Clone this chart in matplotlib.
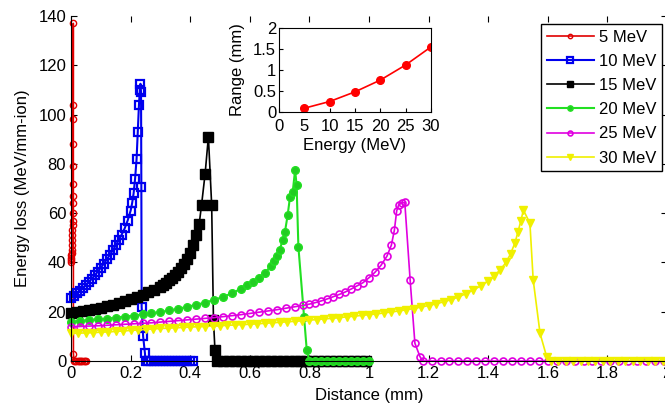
import matplotlib.pyplot as plt

# Energy loss along depth for each beam energy
x_5 = [0.000, 0.0005, 0.001, 0.0015, 0.002, 0.0025, 0.003, 0.0035, 0.004, 0.0045,
       0.005, 0.0055, 0.006, 0.0062, 0.0064, 0.0066, 0.0068, 0.007, 0.0072, 0.0074,
       0.0076, 0.008,
       0.010, 0.014, 0.018, 0.022, 0.026, 0.030, 0.034, 0.038, 0.042, 0.046, 0.050]
y_5 = [40, 41, 42, 43, 44, 45, 47, 49, 51, 53,
       55, 57, 60, 64, 67, 72, 79, 88, 98, 104,
       137, 3,
       0, 0, 0, 0, 0, 0, 0, 0, 0, 0, 0]

x_10 = [0.00, 0.01, 0.02, 0.03, 0.04, 0.05, 0.06, 0.07, 0.08, 0.09,
        0.10, 0.11, 0.12, 0.13, 0.14, 0.15, 0.16, 0.17, 0.18, 0.19,
        0.20, 0.205, 0.21, 0.215, 0.22, 0.224, 0.228, 0.231, 0.233, 0.235,
        0.236, 0.237, 0.242, 0.248,
        0.25, 0.26, 0.27, 0.28, 0.29, 0.30, 0.31, 0.32, 0.33, 0.34,
        0.35, 0.36, 0.37, 0.38, 0.39, 0.40, 0.41]
y_10 = [25.5, 26.5, 27.5, 28.6, 29.7, 30.9, 32.1, 33.4, 34.8, 36.3,
        37.9, 39.5, 41.2, 43.0, 44.9, 46.9, 49.0, 51.3, 53.8, 57.0,
        61.0, 64.0, 68.0, 74.0, 82.0, 93.0, 104.0, 110.0, 112.5, 109.0,
        70.7, 22.0, 10.0, 3.2,
        0, 0, 0, 0, 0, 0, 0, 0, 0, 0,
        0, 0, 0, 0, 0, 0, 0]

x_15 = [0.00, 0.02, 0.04, 0.06, 0.08, 0.10, 0.12, 0.14, 0.16, 0.18,
        0.20, 0.22, 0.24, 0.26, 0.28, 0.30, 0.31, 0.32, 0.33, 0.34,
        0.35, 0.36, 0.37, 0.38, 0.39, 0.40, 0.41, 0.42, 0.43, 0.438,
        0.45, 0.461, 0.472, 0.478, 0.483,
        0.49, 0.51, 0.53, 0.55, 0.57, 0.59, 0.61, 0.63, 0.65, 0.67,
        0.69, 0.71, 0.73, 0.75, 0.77, 0.79, 0.81, 0.83, 0.85, 0.87,
        0.89, 0.91, 0.93, 0.95, 0.97, 0.99]
y_15 = [19.4, 19.8, 20.2, 20.7, 21.2, 21.7, 22.2, 22.8, 23.5, 24.2,
        25.0, 25.8, 26.8, 27.9, 29.0, 30.2, 31.0, 31.8, 32.8, 33.8,
        35.0, 36.3, 37.8, 39.5, 41.5, 44.0, 47.0, 51.0, 55.5, 63.3,
        76.0, 91.0, 63.3, 16.6, 4.5,
        0, 0, 0, 0, 0, 0, 0, 0, 0, 0,
        0, 0, 0, 0, 0, 0, 0, 0, 0, 0,
        0, 0, 0, 0, 0, 0]

x_20 = [0.00, 0.03, 0.06, 0.09, 0.12, 0.15, 0.18, 0.21, 0.24, 0.27,
        0.30, 0.33, 0.36, 0.39, 0.42, 0.45, 0.48, 0.51, 0.54, 0.57,
        0.59, 0.61, 0.63, 0.65, 0.67, 0.68, 0.69, 0.70, 0.71, 0.718,
        0.727, 0.735, 0.744, 0.752, 0.757, 0.763, 0.782, 0.791,
        0.80, 0.82, 0.84, 0.86, 0.88, 0.90, 0.92, 0.94, 0.96, 0.98, 1.00]
y_20 = [16.0, 16.3, 16.6, 16.9, 17.2, 17.6, 18.0, 18.4, 18.9, 19.4,
        19.9, 20.5, 21.2, 22.0, 22.8, 23.7, 24.8, 26.0, 27.5, 29.3,
        30.7, 32.2, 33.8, 35.6, 38.5, 40.5, 42.5, 45.0, 49.0, 52.5,
        59.2, 66.7, 68.7, 77.5, 71.4, 46.4, 18.0, 4.5,
        0, 0, 0, 0, 0, 0, 0, 0, 0, 0, 0]

x_25 = [0.00, 0.03, 0.06, 0.09, 0.12, 0.15, 0.18, 0.21, 0.24, 0.27,
        0.30, 0.33, 0.36, 0.39, 0.42, 0.45, 0.48, 0.51, 0.54, 0.57,
        0.60, 0.63, 0.66, 0.69, 0.72, 0.75, 0.78, 0.80, 0.82, 0.84,
        0.86, 0.88, 0.90, 0.92, 0.94, 0.96, 0.98, 1.00, 1.02, 1.04,
        1.06, 1.075, 1.085, 1.093, 1.10, 1.11, 1.12, 1.138, 1.154, 1.171,
        1.18, 1.21, 1.24, 1.27, 1.30, 1.33, 1.36, 1.39, 1.42, 1.45,
        1.48, 1.51, 1.54, 1.57, 1.60, 1.63, 1.66, 1.69, 1.72, 1.75,
        1.78, 1.81, 1.84, 1.87, 1.90, 1.93, 1.96, 1.99]
y_25 = [13.9, 14.0, 14.2, 14.3, 14.5, 14.7, 14.9, 15.1, 15.3, 15.5,
        15.8, 16.1, 16.4, 16.7, 17.0, 17.3, 17.6, 18.0, 18.4, 18.8,
        19.3, 19.8, 20.3, 20.8, 21.4, 22.0, 22.6, 23.1, 23.7, 24.4,
        25.2, 26.1, 27.0, 28.0, 29.2, 30.5, 31.8, 33.8, 36.0, 38.8,
        42.5, 47.0, 53.0, 61.0, 63.5, 64.0, 64.5, 32.9, 7.2, 1.8,
        0, 0, 0, 0, 0, 0, 0, 0, 0, 0,
        0, 0, 0, 0, 0, 0, 0, 0, 0, 0,
        0, 0, 0, 0, 0, 0, 0, 0]

x_30 = [0.000, 0.025, 0.050, 0.075, 0.100, 0.125, 0.150, 0.175, 0.200, 0.225,
        0.250, 0.275, 0.300, 0.325, 0.350, 0.375, 0.400, 0.425, 0.450, 0.475,
        0.500, 0.525, 0.550, 0.575, 0.600, 0.625, 0.650, 0.675, 0.700, 0.725,
        0.750, 0.775, 0.800, 0.825, 0.850, 0.875, 0.900, 0.925, 0.950, 0.975,
        1.000, 1.025, 1.050, 1.075, 1.100, 1.125, 1.150, 1.175, 1.200, 1.225,
        1.250, 1.275, 1.300, 1.325, 1.350, 1.375, 1.400, 1.420, 1.440, 1.460,
        1.475, 1.490, 1.500, 1.510, 1.518, 1.540, 1.551, 1.574, 1.596,
        1.610, 1.635, 1.660, 1.685, 1.710, 1.735, 1.760, 1.785, 1.810, 1.835,
        1.860, 1.885, 1.910, 1.935, 1.960, 1.985]
y_30 = [11.2, 11.3, 11.4, 11.5, 11.7, 11.8, 12.0, 12.2, 12.4, 12.6,
        12.8, 13.0, 13.2, 13.3, 13.5, 13.6, 13.8, 13.9, 14.0, 14.2,
        14.3, 14.5, 14.6, 14.8, 14.9, 15.1, 15.3, 15.5, 15.7, 15.9,
        16.1, 16.3, 16.6, 16.8, 17.1, 17.3, 17.6, 17.9, 18.2, 18.5,
        18.8, 19.1, 19.5, 19.9, 20.3, 20.8, 21.3, 21.9, 22.5, 23.2,
        24.0, 24.9, 26.0, 27.3, 28.8, 30.5, 32.5, 34.5, 37.0, 40.0,
        43.5, 48.0, 52.5, 57.0, 61.3, 55.9, 32.9, 11.2, 1.8,
        0, 0, 0, 0, 0, 0, 0, 0, 0, 0,
        0, 0, 0, 0, 0, 0]

# Inset: range vs energy
energy = [5, 10, 15, 20, 25, 30]
range_mm = [0.09, 0.25, 0.48, 0.76, 1.12, 1.55]

plt.rcParams['font.family'] = ['Liberation Sans', 'DejaVu Sans']

fig = plt.figure(figsize=(6.65, 4.07), dpi=100)
ax = fig.add_axes([0.1068, 0.113, 0.8962, 0.8477])

ax.plot(x_5, y_5, color='#e00000', marker='o', ms=4.5, mfc='none', mew=1.0,
        lw=1.2, clip_on=False, label='5 MeV')
ax.plot(x_10, y_10, color='#0000ee', marker='s', ms=6, mfc='none', mew=1.6,
        lw=1.5, clip_on=False, label='10 MeV')
ax.plot(x_15, y_15, color='black', marker='s', ms=6.5, mfc='black',
        lw=1.2, clip_on=False, label='15 MeV')
ax.plot(x_20, y_20, color='#22e022', marker='o', ms=5.5, mfc='#22cc22', mec='#22e022',
        lw=1.5, clip_on=False, label='20 MeV')
ax.plot(x_25, y_25, color='#e000e0', marker='o', ms=5, mfc='none', mew=1.2,
        lw=1.2, clip_on=False, label='25 MeV')
ax.plot(x_30, y_30, color='#f0f000', marker='v', ms=6, mfc='#f0f000',
        lw=1.2, clip_on=False, label='30 MeV')

ax.set_xlim(0, 2)
ax.set_ylim(0, 140)
ax.set_xticks([0, 0.2, 0.4, 0.6, 0.8, 1, 1.2, 1.4, 1.6, 1.8, 2])
ax.set_xticklabels(['0', '0.2', '0.4', '0.6', '0.8', '1', '1.2', '1.4', '1.6', '1.8', '2'])
ax.set_yticks([0, 20, 40, 60, 80, 100, 120, 140])
ax.tick_params(direction='in', top=True, right=True, length=4, labelsize=12)
ax.spines['top'].set_visible(False)
ax.spines['right'].set_visible(False)
ax.set_xlabel('Distance (mm)', fontsize=12, labelpad=5)
ax.set_ylabel('Energy loss (MeV/mm-ion)', fontsize=12, labelpad=6)

leg = ax.legend(loc='upper right', bbox_to_anchor=(0.9916, 0.977), fontsize=12,
                fancybox=False, edgecolor='black', framealpha=1, markerscale=0.7,
                handlelength=2.8, handletextpad=0.3, labelspacing=0.55,
                borderpad=0.35, borderaxespad=0)
leg.get_frame().set_linewidth(1.0)

ax2 = fig.add_axes([0.4195, 0.7248, 0.2286, 0.2064])
ax2.plot(energy, range_mm, color='red', marker='o', ms=5.5, mfc='red', lw=1.2)
ax2.set_xlim(0, 30)
ax2.set_ylim(0, 2)
ax2.set_xticks([0, 5, 10, 15, 20, 25, 30])
ax2.set_yticks([0, 0.5, 1, 1.5, 2])
ax2.set_yticklabels(['0', '0.5', '1', '1.5', '2'])
ax2.tick_params(direction='in', length=3, labelsize=12, pad=2)
ax2.tick_params(axis='x', pad=5)
ax2.set_xlabel('Energy (MeV)', fontsize=12, labelpad=3)
ax2.set_ylabel('Range (mm)', fontsize=12, labelpad=6)

fig.savefig('out.png', dpi=100)
